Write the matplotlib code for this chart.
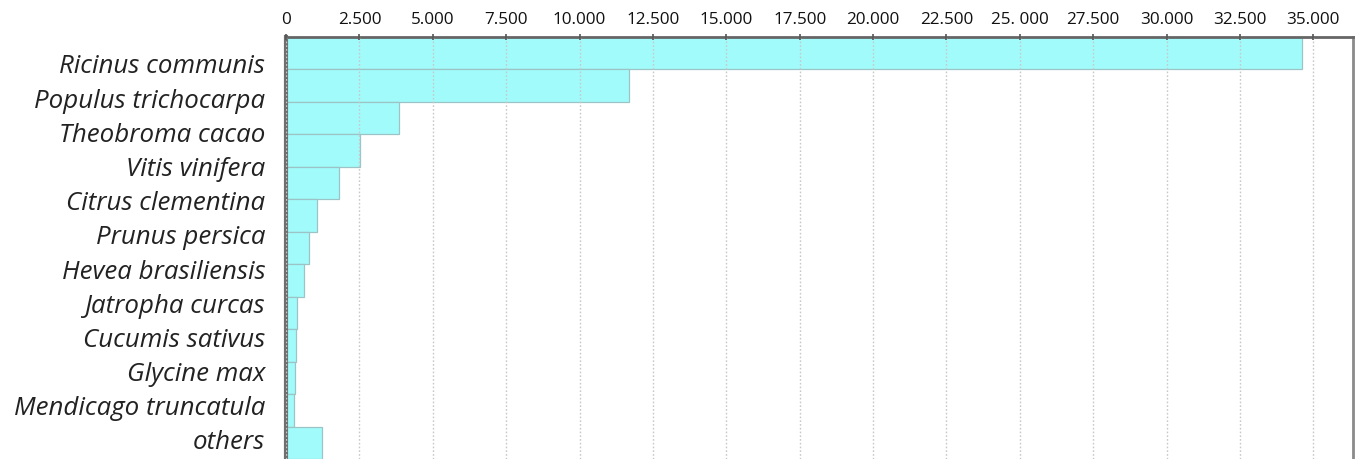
import matplotlib
matplotlib.use("Agg")
import matplotlib.pyplot as plt
import numpy as np

# species names as printed on the left (12 labels)
species = ["Ricinus communis", "Populus trichocarpa", "Theobroma cacao",
           "Vitis vinifera", "Citrus clementina", "Prunus persica",
           "Hevea brasiliensis", "Jatropha curcas", "Cucumis sativus",
           "Glycine max", "Mendicago truncatula", "others"]

# bar lengths (13 bars are drawn in the original)
counts = [34620, 11670, 3835, 2530, 1795, 1055, 770, 600, 375, 350, 315, 260, 1225]

xticks = np.arange(0, 35001, 2500)
xtick_labels = ["0", "2.500", "5.000", "7.500", "10.000", "12.500", "15.000",
                "17.500", "20.000", "22.500", "25. 000", "27.500", "30.000",
                "32.500", "35.000"]

fig = plt.figure(figsize=(13.56, 4.60), dpi=100)
ax = fig.add_axes([286 / 1356, 0.0, 1067 / 1356, 1 - 38 / 460])

ypos = np.arange(len(counts))
ax.barh(ypos, counts, height=1.0, color="#a2fbfb",
        edgecolor="#9cc4c6", linewidth=0.9, zorder=2)

ax.set_xlim(0, 36350)
ax.set_ylim(len(counts) - 0.5, -0.5)

ax.xaxis.tick_top()
ax.set_xticks(xticks)
ax.set_xticklabels(xtick_labels, family="Open Sans", fontsize=12.3, color="#111111")
ax.tick_params(axis="x", direction="inout", length=4, width=1.2,
               color="#555555", pad=5)

# the names sit a little lower than the bars in the original
label_y = np.linspace(0.30, 11.88, len(species))
ax.set_yticks(label_y)
ax.set_yticklabels(species, family="Open Sans", style="italic", fontsize=18.6,
                   color="#222222")
ax.tick_params(axis="y", length=0, pad=15)

ax.grid(axis="x", linestyle=(0, (1.2, 1.5)), color="#c8c8c8",
        linewidth=1.0, zorder=3)
ax.set_axisbelow(False)

ax.spines["left"].set_linewidth(3)
ax.spines["left"].set_color("#6f6f6f")
ax.spines["top"].set_linewidth(2)
ax.spines["top"].set_color("#666666")
ax.spines["right"].set_linewidth(2)
ax.spines["right"].set_color("#8a8a8a")
ax.spines["bottom"].set_visible(False)

fig.savefig("out.png", dpi=100)
